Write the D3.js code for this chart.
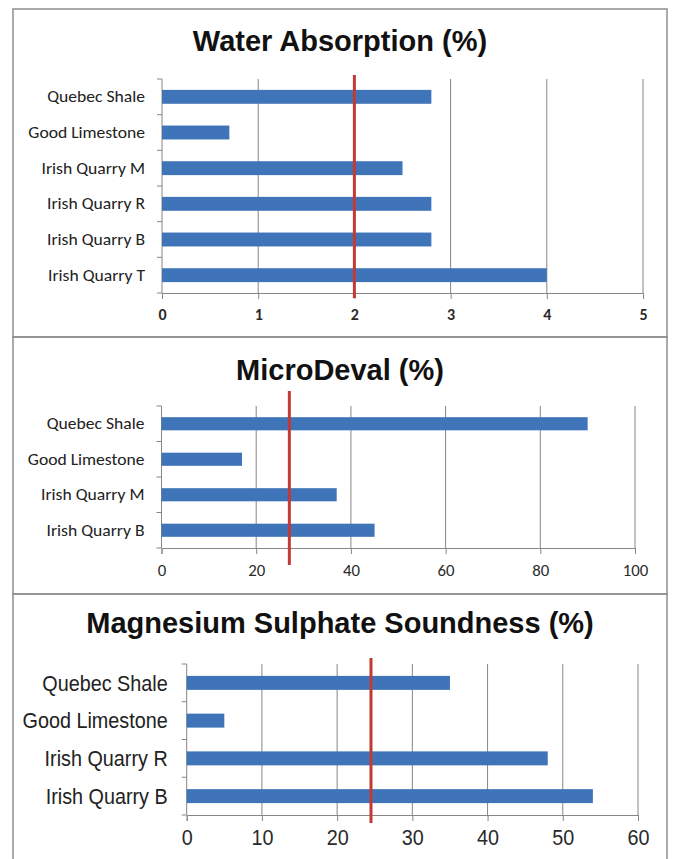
<!DOCTYPE html>
<html>
<head>
<meta charset="utf-8">
<script src="https://cdn.jsdelivr.net/npm/d3@7"></script>
<style>
  html, body { margin: 0; padding: 0; background: #ffffff; }
  svg { display: block; }
</style>
</head>
<body>
<svg id="chart" width="673" height="859"></svg>
<script>
// Water absorption panel
const waterTitle = "Water Absorption (%)";
const waterCategories = ["Quebec Shale", "Good Limestone", "Irish Quarry M", "Irish Quarry R", "Irish Quarry B", "Irish Quarry T"];
const waterValues = [2.8, 0.7, 2.5, 2.8, 2.8, 4.0];
const waterTicks = [0, 1, 2, 3, 4, 5];
const waterLimit = 2;

// Micro-Deval panel
const microTitle = "MicroDeval (%)";
const microCategories = ["Quebec Shale", "Good Limestone", "Irish Quarry M", "Irish Quarry B"];
const microValues = [90, 17, 37, 45];
const microTicks = [0, 20, 40, 60, 80, 100];
const microLimit = 27;

// Magnesium sulphate soundness panel
const mgTitle = "Magnesium Sulphate Soundness (%)";
const mgCategories = ["Quebec Shale", "Good Limestone", "Irish Quarry R", "Irish Quarry B"];
const mgValues = [35, 5, 48, 54];
const mgTicks = [0, 10, 20, 30, 40, 50, 60];
const mgLimit = 24.5;

const svg = d3.select("#chart");
const BAR = "#3f74b9";
const GRID = "#8a8582";
const RED = "#c23a33";

// panel frames
const frames = [
  { y0: 9, y1: 337 },
  { y0: 337, y1: 594 },
  { y0: 594, y1: 870 }
];
frames.forEach(f => {
  svg.append("rect")
    .attr("x", 13).attr("y", f.y0)
    .attr("width", 654).attr("height", f.y1 - f.y0)
    .attr("fill", "none").attr("stroke", "#8f8f8f").attr("stroke-width", 1.5);
});

// horizontal stretch/squeeze of a text around its own anchor x
function hscale(sel, ax, k) {
  sel.attr("transform", `translate(${ax},0) scale(${k},1) translate(${-ax},0)`);
}

function drawPanel(cfg) {
  const x = d3.scaleLinear().domain([cfg.ticks[0], cfg.ticks[cfg.ticks.length - 1]]).range([cfg.left, cfg.right]);
  const y = d3.scaleBand().domain(cfg.categories).range([cfg.top, cfg.bottom])
    .paddingInner(cfg.pad).paddingOuter(cfg.pad / 2);
  const g = svg.append("g");

  // title
  g.append("text")
    .attr("x", 340).attr("y", cfg.titleY)
    .attr("text-anchor", "middle")
    .attr("font-family", "'Liberation Sans', Arial, sans-serif")
    .attr("font-weight", "bold")
    .attr("font-size", cfg.titleSize)
    .attr("fill", "#111")
    .text(cfg.title);

  // vertical gridlines
  g.selectAll(".grid").data(cfg.ticks.slice(1)).join("line")
    .attr("x1", d => x(d)).attr("x2", d => x(d))
    .attr("y1", cfg.top).attr("y2", cfg.bottom)
    .attr("stroke", GRID).attr("stroke-width", 1);

  // x axis
  const xAxis = d3.axisBottom(x).tickValues(cfg.ticks).tickSize(6).tickPadding(cfg.tickPad).tickFormat(d3.format("d"));
  const xa = g.append("g").attr("transform", `translate(0,${cfg.bottom})`).call(xAxis);
  xa.select(".domain").attr("stroke", GRID);
  xa.selectAll(".tick line").attr("stroke", GRID);
  xa.selectAll(".tick text")
    .attr("font-family", cfg.tickFont)
    .attr("font-size", cfg.tickSize)
    .attr("font-weight", cfg.tickWeight)
    .attr("fill", "#2a2a2a")
    .each(function () { hscale(d3.select(this), 0, cfg.tickScale); });

  // y axis line with category separators
  g.append("line")
    .attr("x1", cfg.left).attr("x2", cfg.left)
    .attr("y1", cfg.top).attr("y2", cfg.bottom)
    .attr("stroke", GRID).attr("stroke-width", 1);
  const step = y.step();
  const seps = d3.range(cfg.categories.length + 1).map(i => cfg.top + i * step);
  g.selectAll(".sep").data(seps).join("line")
    .attr("x1", cfg.left - 5).attr("x2", cfg.left)
    .attr("y1", d => d).attr("y2", d => d)
    .attr("stroke", GRID).attr("stroke-width", 1);

  // category labels
  const ax = cfg.left - cfg.labelGap;
  g.selectAll(".cat").data(cfg.categories).join("text")
    .attr("x", ax)
    .attr("y", d => y(d) + y.bandwidth() / 2)
    .attr("dy", "0.35em")
    .attr("text-anchor", "end")
    .attr("font-family", cfg.labelFont)
    .attr("font-size", cfg.labelSize)
    .attr("font-weight", cfg.labelWeight)
    .attr("fill", "#222")
    .text(d => d)
    .each(function () { hscale(d3.select(this), ax, cfg.labelScale); });

  // bars
  g.selectAll(".bar").data(cfg.values).join("rect")
    .attr("x", x(0))
    .attr("y", (d, i) => y(cfg.categories[i]))
    .attr("width", d => x(d) - x(0))
    .attr("height", y.bandwidth())
    .attr("fill", BAR);

  // limit line
  g.append("line")
    .attr("x1", x(cfg.limit)).attr("x2", x(cfg.limit))
    .attr("y1", cfg.limitTop).attr("y2", cfg.limitBottom)
    .attr("stroke", RED).attr("stroke-width", 3);
}

const smallFont = "Carlito, Lato, 'Open Sans', sans-serif";

drawPanel({
  title: waterTitle, categories: waterCategories, values: waterValues, ticks: waterTicks, limit: waterLimit,
  left: 162, right: 643, top: 79, bottom: 293, pad: 0.61,
  titleY: 51, titleSize: 29,
  limitTop: 75, limitBottom: 298,
  labelFont: smallFont, labelSize: 16, labelGap: 17, labelScale: 1.1, labelWeight: "normal",
  tickFont: smallFont, tickSize: 16, tickWeight: "bold", tickPad: 10, tickScale: 1
});

drawPanel({
  title: microTitle, categories: microCategories, values: microValues, ticks: microTicks, limit: microLimit,
  left: 161.5, right: 635, top: 406, bottom: 548, pad: 0.63,
  titleY: 380, titleSize: 29,
  limitTop: 391, limitBottom: 565,
  labelFont: smallFont, labelSize: 16, labelGap: 17, labelScale: 1.1, labelWeight: "normal",
  tickFont: smallFont, tickSize: 16, tickWeight: "normal", tickPad: 11, tickScale: 1.05
});

drawPanel({
  title: mgTitle, categories: mgCategories, values: mgValues, ticks: mgTicks, limit: mgLimit,
  left: 186.7, right: 638, top: 664, bottom: 815, pad: 0.63,
  titleY: 633, titleSize: 29,
  limitTop: 658, limitBottom: 823,
  labelFont: "'Liberation Sans', Arial, sans-serif", labelSize: 22, labelGap: 19, labelScale: 0.9, labelWeight: "normal",
  tickFont: "'Liberation Sans', Arial, sans-serif", tickSize: 22, tickWeight: "normal", tickPad: 8, tickScale: 0.9
});
</script>
</body>
</html>
